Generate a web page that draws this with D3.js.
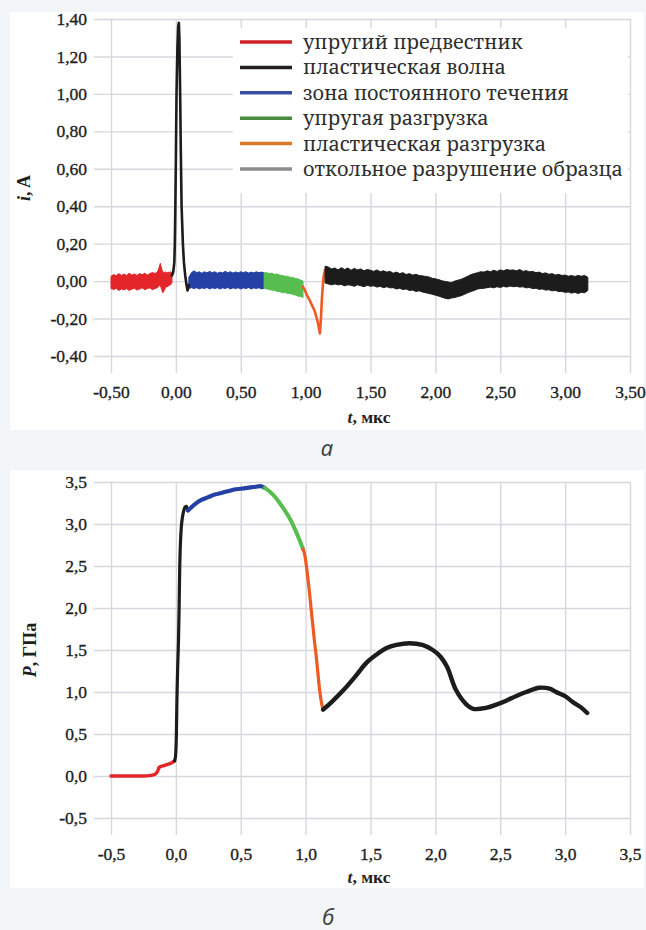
<!DOCTYPE html>
<html><head><meta charset="utf-8">
<script src="https://cdn.jsdelivr.net/npm/d3@7"></script>
<style>
html,body{margin:0;padding:0;background:#f3f6f8;}
svg{display:block;}
</style></head>
<body>
<script>
// ---------- DATA ----------
// Chart a: current i, A vs t, мкс
const legendLabels = ["упругий предвестник","пластическая волна","зона постоянного течения","упругая разгрузка","пластическая разгрузка","откольное разрушение образца"];
const legendColors = ["#d0202a","#231f20","#3a50a0","#4a8a40","#d87a28","#8c8c90"];

const xTicks = [-0.5,0,0.5,1,1.5,2,2.5,3,3.5];
const yTicksA = [-0.4,-0.2,0,0.2,0.4,0.6,0.8,1.0,1.2,1.4];
const yTicksB = [-0.5,0,0.5,1,1.5,2,2.5,3,3.5];

// noisy segments: envelope (upper / lower) of the noise band
const redT  = [-0.50,-0.48,-0.46,-0.44,-0.42,-0.40,-0.38,-0.36,-0.34,-0.32,-0.30,-0.28,-0.26,-0.24,-0.22,-0.20,-0.18,-0.16,-0.14,-0.13,-0.12,-0.11,-0.10,-0.09,-0.08,-0.07,-0.06,-0.05,-0.04,-0.03];
const redHi = [0.025,0.035,0.028,0.040,0.030,0.038,0.030,0.042,0.032,0.038,0.030,0.040,0.034,0.042,0.032,0.040,0.046,0.040,0.052,0.070,0.095,0.065,0.050,0.045,0.050,0.042,0.048,0.045,0.050,0.045];
const redLo = [-0.040,-0.045,-0.038,-0.050,-0.042,-0.047,-0.040,-0.050,-0.043,-0.038,-0.048,-0.042,-0.036,-0.046,-0.040,-0.036,-0.046,-0.040,-0.034,-0.025,-0.020,-0.045,-0.062,-0.050,-0.035,-0.030,-0.028,-0.022,-0.020,-0.005];

const spikeT = [-0.03,-0.02,-0.012,-0.008,-0.004,0.0,0.005,0.012,0.018,0.023,0.027,0.033,0.038,0.044,0.054,0.062,0.072,0.082,0.09,0.10];
const spikeI = [0.03,0.05,0.10,0.20,0.40,0.65,1.00,1.25,1.36,1.38,1.30,1.00,0.70,0.40,0.20,0.10,0.03,-0.02,-0.05,-0.02];

const blueT  = [0.10,0.12,0.14,0.16,0.18,0.20,0.22,0.24,0.26,0.28,0.30,0.32,0.34,0.36,0.38,0.40,0.42,0.44,0.46,0.48,0.50,0.52,0.54,0.56,0.58,0.60,0.62,0.64,0.66,0.68];
const blueHi = [0.020,0.045,0.055,0.045,0.050,0.042,0.050,0.044,0.052,0.045,0.050,0.042,0.048,0.044,0.052,0.045,0.050,0.043,0.049,0.044,0.050,0.045,0.050,0.043,0.048,0.044,0.050,0.045,0.048,0.044];
const blueLo = [-0.040,-0.035,-0.040,-0.035,-0.042,-0.036,-0.040,-0.034,-0.042,-0.036,-0.040,-0.035,-0.042,-0.036,-0.040,-0.034,-0.042,-0.036,-0.040,-0.035,-0.042,-0.036,-0.040,-0.034,-0.042,-0.036,-0.040,-0.035,-0.042,-0.038];

const greenT  = [0.68,0.70,0.72,0.74,0.76,0.78,0.80,0.82,0.84,0.86,0.88,0.90,0.92,0.94,0.96,0.98];
const greenHi = [0.044,0.045,0.040,0.042,0.036,0.038,0.032,0.030,0.026,0.026,0.020,0.020,0.014,0.012,0.006,0.000];
const greenLo = [-0.038,-0.042,-0.045,-0.048,-0.050,-0.055,-0.056,-0.062,-0.060,-0.066,-0.066,-0.072,-0.074,-0.080,-0.082,-0.088];

const orangeT = [0.98,0.995,1.01,1.03,1.05,1.07,1.09,1.10,1.11,1.118,1.125,1.133,1.14,1.15];
const orangeI = [-0.03,-0.05,-0.075,-0.10,-0.13,-0.16,-0.21,-0.24,-0.28,-0.20,-0.10,-0.02,0.03,0.06];

const tailT = [1.150,1.175,1.200,1.225,1.250,1.275,1.300,1.325,1.350,1.375,1.400,1.425,1.450,1.475,1.500,1.525,1.550,1.575,1.600,1.625,1.650,1.675,1.700,1.725,1.750,1.775,1.800,1.825,1.850,1.875,1.900,1.925,1.950,1.975,2.000,2.025,2.050,2.075,2.100,2.125,2.150,2.175,2.200,2.225,2.250,2.275,2.300,2.325,2.350,2.375,2.400,2.425,2.450,2.475,2.500,2.525,2.550,2.575,2.600,2.625,2.650,2.675,2.700,2.725,2.750,2.775,2.800,2.825,2.850,2.875,2.900,2.925,2.950,2.975,3.000,3.025,3.050,3.075,3.100,3.125,3.150,3.175];
const tailHi = [0.080,0.075,0.065,0.070,0.060,0.072,0.062,0.070,0.058,0.068,0.060,0.065,0.055,0.062,0.058,0.052,0.060,0.050,0.055,0.048,0.052,0.042,0.048,0.040,0.045,0.035,0.040,0.032,0.036,0.030,0.028,0.025,0.022,0.015,0.012,0.008,0.002,-0.002,-0.005,-0.008,0.000,0.005,0.010,0.018,0.026,0.035,0.040,0.045,0.050,0.048,0.055,0.050,0.058,0.052,0.060,0.055,0.062,0.058,0.060,0.055,0.062,0.052,0.056,0.050,0.052,0.045,0.048,0.040,0.044,0.036,0.040,0.032,0.036,0.030,0.032,0.026,0.030,0.025,0.030,0.026,0.030,0.020];
const tailLo = [-0.010,-0.015,-0.020,-0.015,-0.020,-0.018,-0.025,-0.020,-0.022,-0.028,-0.020,-0.025,-0.030,-0.022,-0.028,-0.025,-0.032,-0.028,-0.035,-0.030,-0.036,-0.035,-0.042,-0.038,-0.045,-0.042,-0.050,-0.048,-0.055,-0.052,-0.058,-0.062,-0.066,-0.070,-0.075,-0.080,-0.086,-0.092,-0.095,-0.090,-0.088,-0.082,-0.078,-0.070,-0.062,-0.055,-0.050,-0.042,-0.040,-0.038,-0.035,-0.032,-0.036,-0.030,-0.034,-0.028,-0.032,-0.026,-0.030,-0.028,-0.032,-0.030,-0.036,-0.034,-0.040,-0.038,-0.044,-0.042,-0.048,-0.046,-0.052,-0.050,-0.056,-0.055,-0.060,-0.058,-0.064,-0.060,-0.066,-0.060,-0.062,-0.050];

// Chart б: pressure P, ГПа vs t, мкс
const pRedT = [-0.50,-0.40,-0.30,-0.25,-0.20,-0.17,-0.15,-0.14,-0.13,-0.12,-0.10,-0.08,-0.06,-0.04,-0.02,-0.01];
const pRedP = [0,0,0,0,0.005,0.015,0.035,0.06,0.10,0.11,0.12,0.13,0.14,0.15,0.17,0.18];
const pRiseT = [-0.01,-0.004,0.0,0.004,0.008,0.014,0.02,0.025,0.03,0.036,0.044,0.055,0.07,0.08,0.093];
const pRiseP = [0.18,0.22,0.30,0.50,0.90,1.30,1.60,2.00,2.50,2.80,3.00,3.12,3.20,3.21,3.16];
const pBlueT = [0.093,0.12,0.15,0.20,0.25,0.30,0.35,0.40,0.45,0.50,0.55,0.60,0.65,0.685];
const pBlueP = [3.16,3.20,3.24,3.29,3.32,3.35,3.37,3.39,3.41,3.42,3.43,3.44,3.45,3.43];
const pGreenT = [0.685,0.72,0.76,0.80,0.84,0.88,0.92,0.95,0.98];
const pGreenP = [3.43,3.39,3.33,3.25,3.16,3.06,2.93,2.82,2.70];
const pOrangeT = [0.98,0.995,1.01,1.03,1.045,1.07,1.08,1.11,1.125,1.135];
const pOrangeP = [2.70,2.62,2.45,2.18,1.95,1.58,1.45,1.00,0.85,0.79];
const pTailT = [1.135,1.20,1.29,1.38,1.47,1.55,1.62,1.70,1.80,1.90,1.98,2.04,2.09,2.16,2.24,2.29,2.39,2.47,2.55,2.62,2.70,2.80,2.88,2.93,3.00,3.06,3.12,3.17];
const pTailP = [0.79,0.88,1.02,1.18,1.35,1.45,1.52,1.56,1.58,1.56,1.50,1.42,1.30,1.02,0.85,0.80,0.81,0.85,0.90,0.95,1.00,1.05,1.04,1.00,0.95,0.88,0.82,0.75];

// ---------- DRAWING ----------
const W = 646, H = 930;
const SERIF = '"Liberation Serif", "Times New Roman", serif';
const LEGF = '"Noto Serif", "Liberation Serif", serif';
const svg = d3.select("body").append("svg").attr("width", W).attr("height", H);
svg.append("rect").attr("width", W).attr("height", H).attr("fill", "#f3f6f8");

const GRID = "#d6d8dd";
const zip = (a, b) => a.map((v, i) => [v, b[i]]);
const zip3 = (a, b, c) => a.map((v, i) => [v, b[i], c[i]]);

function panel(y0, yDomain, yRange, yTicks, fmtDigits) {
  svg.append("rect").attr("x", 10).attr("y", y0).attr("width", 634).attr("height", 418).attr("fill", "#ffffff");
  const x = d3.scaleLinear().domain([-0.5, 3.5]).range([111, 630]);
  const y = d3.scaleLinear().domain(yDomain).range(yRange);
  const fmt = v => v.toFixed(fmtDigits).replace(".", ",");
  const gx = svg.append("g").attr("transform", `translate(0,${yRange[0] + 17})`)
    .call(d3.axisBottom(x).tickValues(xTicks).tickSize(-(yRange[0] + 17 - yRange[1])).tickPadding(13).tickFormat(fmt));
  const gy = svg.append("g").attr("transform", `translate(94,0)`)
    .call(d3.axisLeft(y).tickValues(yTicks).tickSize(-(630 - 94)).tickPadding(7).tickFormat(fmt));
  [gx, gy].forEach(g => {
    g.attr("font-family", SERIF).attr("font-size", 17);
    g.select(".domain").remove();
    g.selectAll("line").attr("stroke", GRID).attr("stroke-width", 1.4);
    g.selectAll("text").style("font-family", SERIF).style("font-size", "17.5px").style("fill", "#1e1e1e")
      .style("stroke", "#1e1e1e").style("stroke-width", "0.35px");
  });
  return {x, y};
}

// ---- chart a ----
const A = panel(12, [-0.4, 1.4], [356, 19], yTicksA, 2);
// legend box
svg.append("rect").attr("x", 233).attr("y", 28).attr("width", 395).attr("height", 165).attr("fill", "#ffffff");

function band(x, y, t, hi, lo, color) {
  const d = zip3(t, hi, lo);
  svg.append("path").datum(d)
    .attr("d", d3.area().x(p => x(p[0])).y0(p => y(p[2])).y1(p => y(p[1])))
    .attr("fill", color).attr("stroke", color).attr("stroke-width", 1).attr("stroke-linejoin", "miter");
}
function line(x, y, t, v, color, w, curve) {
  svg.append("path").datum(zip(t, v))
    .attr("d", d3.line().x(p => x(p[0])).y(p => y(p[1])).curve(curve || d3.curveLinear))
    .attr("fill", "none").attr("stroke", color).attr("stroke-width", w)
    .attr("stroke-linejoin", "round").attr("stroke-linecap", "round");
}

band(A.x, A.y, redT, redHi, redLo, "#e3262a");
band(A.x, A.y, blueT, blueHi, blueLo, "#2440a4");
band(A.x, A.y, greenT, greenHi, greenLo, "#58bd4f");
line(A.x, A.y, spikeT, spikeI, "#1c1c1c", 2.6);
line(A.x, A.y, orangeT, orangeI, "#ee5a22", 2.6);
band(A.x, A.y, tailT, tailHi, tailLo, "#1c1c1c");

// legend
const lg = svg.append("g");
const legTexts = [];
legendLabels.forEach((lab, i) => {
  const yy = 42 + i * 25.4;
  lg.append("line").attr("x1", 240).attr("x2", 292).attr("y1", yy).attr("y2", yy)
    .attr("stroke", legendColors[i]).attr("stroke-width", 3.5);
  legTexts.push(lg.append("text").attr("x", 303).attr("y", yy).attr("dy", "0.35em")
    .style("font-family", LEGF).style("font-size", "18px").style("fill", "#2e2e2e")
    .text(lab));
});
// fit widest legend entry to the reference width
const wMax = d3.max(legTexts, t => t.node().getComputedTextLength());
if (wMax > 0) {
  const fs = Math.min(21, Math.max(15, 18 * 320 / wMax));
  legTexts.forEach(t => t.style("font-size", fs + "px"));
}

// axis titles
function xTitle(yb) {
  const t = svg.append("text").attr("x", 369).attr("y", yb).attr("text-anchor", "middle")
    .style("font-family", SERIF).style("font-size", "17.5px").style("font-weight", "bold").style("fill", "#1e1e1e");
  t.append("tspan").style("font-style", "italic").text("t");
  t.append("tspan").text(", мкс");
}
function yTitle(cx, cy, sym, unit) {
  const t = svg.append("text").attr("transform", `translate(${cx},${cy}) rotate(-90)`)
    .attr("text-anchor", "middle").attr("dy", "0.35em")
    .style("font-family", SERIF).style("font-size", "18px").style("font-weight", "bold").style("fill", "#1e1e1e");
  t.append("tspan").style("font-style", "italic").text(sym);
  t.append("tspan").text(unit);
}
xTitle(423);
yTitle(24, 188, "i", ", A");

// caption a
svg.append("text").attr("x", 327).attr("y", 456).attr("text-anchor", "middle")
  .style("font-family", '"Noto Sans", sans-serif').style("font-style", "italic")
  .style("font-size", "22px").style("fill", "#444").text("а");

// ---- chart б ----
const B = panel(470, [-0.5, 3.5], [818, 482], yTicksB, 1);
line(B.x, B.y, pRedT, pRedP, "#e3262a", 3.4, d3.curveMonotoneX);
line(B.x, B.y, pRiseT, pRiseP, "#1c1c1c", 3.2, d3.curveCatmullRom);
line(B.x, B.y, pBlueT, pBlueP, "#2440a4", 4.2, d3.curveMonotoneX);
line(B.x, B.y, pGreenT, pGreenP, "#58bd4f", 4, d3.curveMonotoneX);
line(B.x, B.y, pOrangeT, pOrangeP, "#ee5a22", 3.2, d3.curveMonotoneX);
line(B.x, B.y, pTailT, pTailP, "#1c1c1c", 4.4, d3.curveCatmullRom);

xTitle(883);
yTitle(30, 650, "P", ", ГПа");

svg.append("text").attr("x", 328).attr("y", 925).attr("text-anchor", "middle")
  .style("font-family", '"Noto Sans", sans-serif').style("font-style", "italic")
  .style("font-size", "22px").style("fill", "#444").text("б");
</script>
</body></html>
